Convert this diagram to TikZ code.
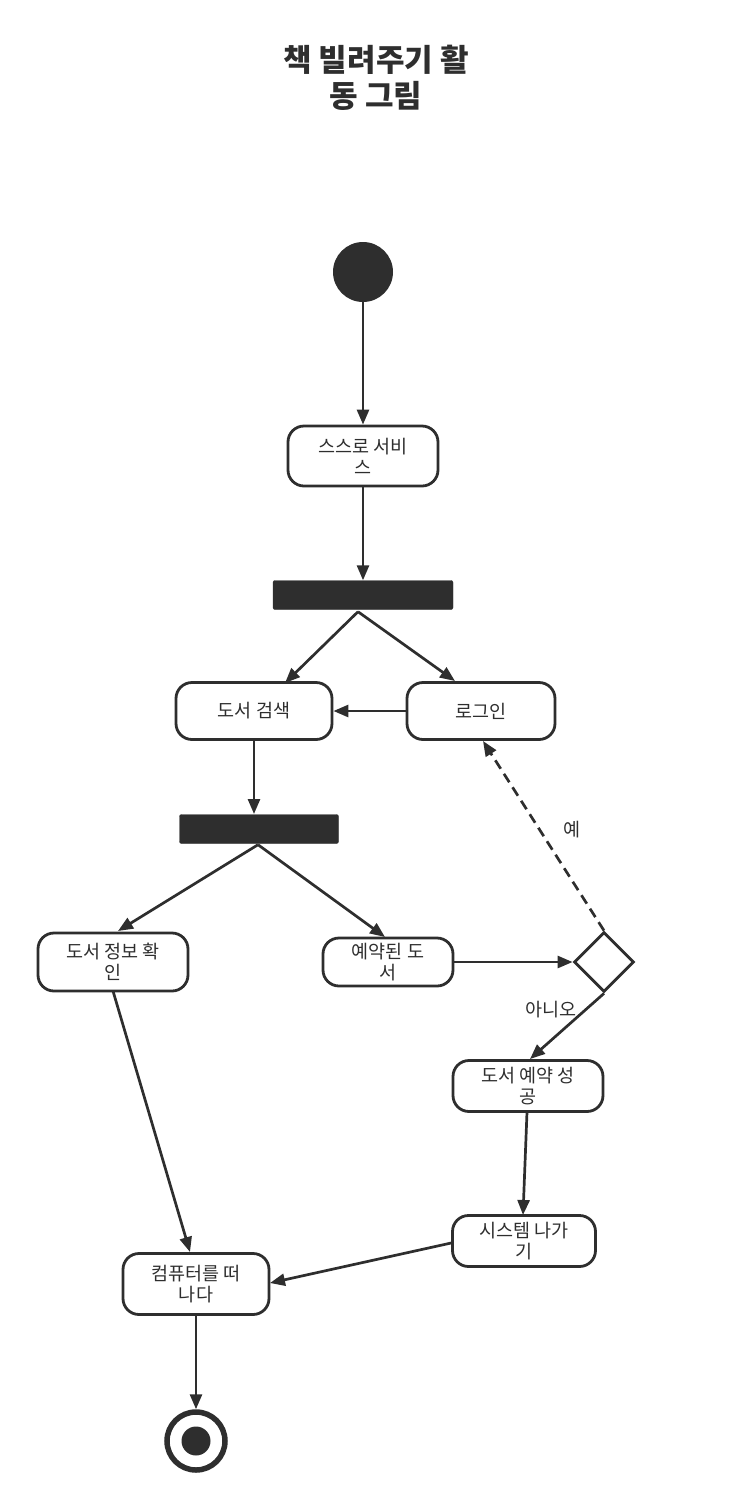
\documentclass[tikz,border=0pt]{standalone}
\usepackage{fontspec}
\setmainfont{Noto Sans CJK KR}
\usetikzlibrary{arrows.meta,shapes.geometric}
\definecolor{dk}{HTML}{2E2E2E}
\tikzset{
 act/.style={draw=dk,line width=2.8pt,rounded corners=16pt,align=center,font=\fontsize{18.5}{21}\selectfont,inner sep=0pt,text=dk},
 bar/.style={fill=dk,draw=dk,rounded corners=2pt,inner sep=0pt},
 arr/.style={draw=dk,line width=2.7pt,-{Triangle[length=15pt,width=12pt]}},
 lbl/.style={font=\fontsize{18.5}{21}\selectfont,text=dk}
}
\begin{document}
\begin{tikzpicture}[x=1pt,y=-1pt]
\useasboundingbox (0,0) rectangle (730,1508);
\node[font=\bfseries\fontsize{31}{36}\selectfont,align=center,text=dk] (title) at (376,78) {책 빌려주기 활\\동 그림};
\node[circle,fill=dk,minimum size=60pt,inner sep=0pt] (start) at (363,272) {};
\node[act,minimum width=150pt,minimum height=60pt] (ss) at (363,456) {스스로 서비\\스};
\node[bar,minimum width=180pt,minimum height=29pt] (b1) at (363,595) {};
\node[act,minimum width=156pt,minimum height=57pt] (search) at (254,711) {도서 검색};
\node[act,minimum width=148pt,minimum height=57pt] (login) at (481,711) {로그인};
\node[bar,minimum width=159pt,minimum height=29pt] (b2) at (259,829) {};
\node[act,minimum width=150pt,minimum height=58pt] (info) at (113,962) {도서 정보 확\\인};
\node[act,minimum width=130pt,minimum height=48pt] (res) at (388,962) {예약된 도\\서};
\node[diamond,draw=dk,line width=2.8pt,minimum width=60pt,minimum height=60pt,inner sep=0pt,fill=white] (dec) at (604,962) {};
\node[act,minimum width=150pt,minimum height=51pt] (succ) at (528,1086) {도서 예약 성\\공};
\node[act,minimum width=143pt,minimum height=51pt] (exit) at (524,1241) {시스템 나가\\기};
\node[act,minimum width=146pt,minimum height=61pt] (leave) at (196,1284) {컴퓨터를 떠\\나다};
\node[circle,draw=dk,line width=5.5pt,minimum size=58pt,inner sep=0pt] (end) at (196,1441) {};
\node[circle,fill=dk,minimum size=29pt,inner sep=0pt] (endin) at (196,1441) {};
\draw[arr] (start) -- (ss);
\draw[arr] (ss) -- (b1);
\draw[arr] (b1.south) ++(-5,2) coordinate (b1s) -- (285,683) coordinate (sa);
\draw[arr] (b1s) -- (455,681);
\draw[arr] (login) -- (search);
\draw[arr] (254,740) -- (254,814);
\draw[arr] (b2.south) ++(-1,1) coordinate (b2s) -- (118,931);
\draw[arr] (b2s) -- (385,937);
\draw[arr] (res) -- (dec);
\draw[arr,dashed,dash pattern=on 10pt off 6pt] (dec.north) -- (483,741);
\node[lbl] (yes) at (572,830) {예};
\draw[arr] (dec.south) -- (530,1059);
\node[lbl] (no) at (551,1010) {아니오};
\draw[arr] (113,991) -- (190,1252);
\draw[arr] (527,1112) -- (523,1215);
\draw[arr] (exit.west) ++(0,2) -- (270,1283);
\draw[arr] (leave) -- (end);
\end{tikzpicture}
\end{document}
